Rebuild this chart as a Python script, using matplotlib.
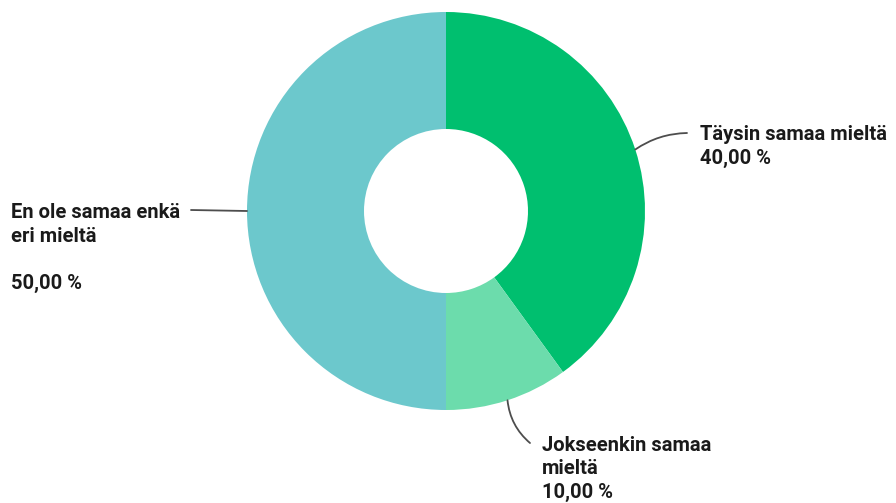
import numpy as np
import matplotlib.pyplot as plt

labels = ["Täysin samaa mieltä", "Jokseenkin samaa\nmieltä", "En ole samaa enkä\neri mieltä\n"]
values = [40.0, 10.0, 50.0]
colors = ["#00bf6f", "#6cdcac", "#6cc8cc"]

W, H = 896, 503
fig = plt.figure(figsize=(W / 100, H / 100), dpi=100)
ax = fig.add_axes([0, 0, 1, 1])

cx, cy = 446, H - 211
r_out, r_in = 199, 82

wedges, _ = ax.pie(values, colors=colors, startangle=90, counterclock=False,
                   center=(cx, cy), radius=r_out,
                   wedgeprops=dict(width=r_out - r_in, linewidth=0))
ax.set_xlim(0, W)
ax.set_ylim(0, H)
ax.set_aspect('equal')
ax.axis('off')

txt = dict(fontsize=14.5, fontweight='bold', family=['Roboto', 'DejaVu Sans'],
           color='#1a1a1a', ha='left', va='top', linespacing=1.3)

# label text position (px), leader end (px), curvature
layout = [((700, 125), (687, 133), 0.15),
          ((542, 436), (530, 443), -0.2),
          ((11, 203), (191, 210), 0.0)]

for w, lab, v, (tpos, lend, rad) in zip(wedges, labels, values, layout):
    ang = np.deg2rad((w.theta1 + w.theta2) / 2)
    anchor = (cx + r_out * np.cos(ang), cy + r_out * np.sin(ang))
    ax.annotate('', xy=anchor, xytext=(lend[0], H - lend[1]),
                arrowprops=dict(arrowstyle='-', color='#4d4d4d', lw=1.3,
                                connectionstyle='arc3,rad=%.2f' % rad,
                                shrinkA=0, shrinkB=0))
    s = lab + "\n" + ("%.2f %%" % v).replace('.', ',')
    ax.text(tpos[0], H - tpos[1], s, **txt)

fig.savefig('out.png', dpi=100)
